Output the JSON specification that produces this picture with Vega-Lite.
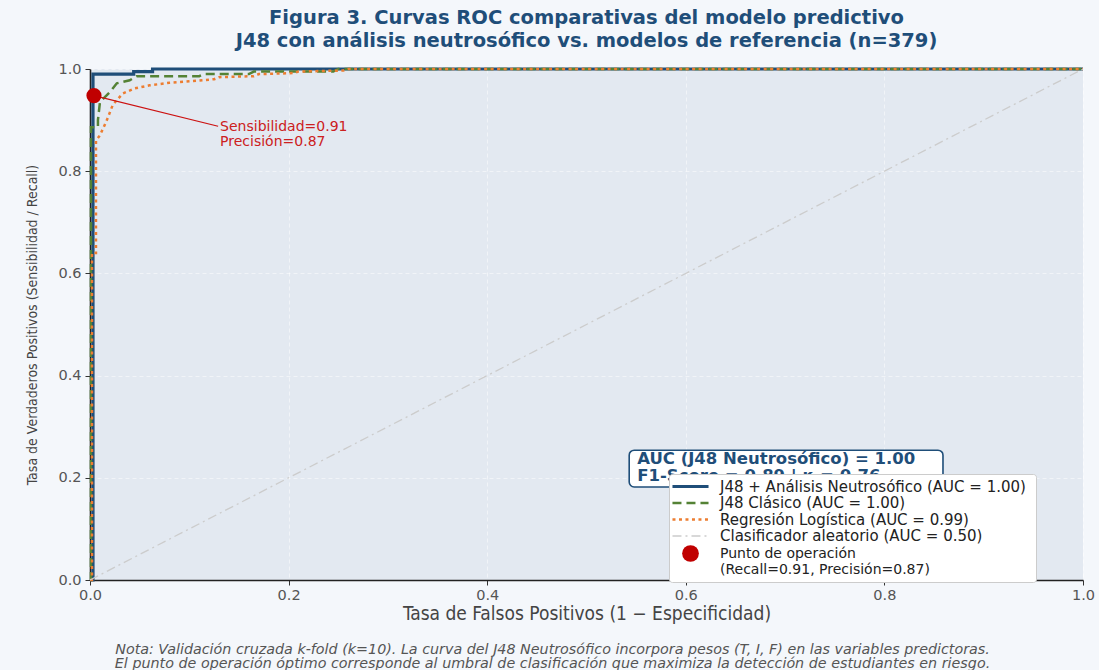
{
  "$schema": "https://vega.github.io/schema/vega-lite/v6.json",
  "width": 993,
  "height": 511,
  "autosize": {"type": "none"},
  "padding": {"left": 90, "top": 69, "right": 16, "bottom": 90},
  "background": "#f4f7fb",
  "config": {
    "view": {"fill": "#e3e9f1", "stroke": null},
    "font": "DejaVu Sans"
  },
  "title": {
    "text": ["Figura 3. Curvas ROC comparativas del modelo predictivo", "J48 con análisis neutrosófico vs. modelos de referencia  (n=379)"],
    "font": "DejaVu Sans",
    "fontSize": 19.5,
    "fontWeight": "bold",
    "color": "#1f4e79",
    "anchor": "middle",
    "lineHeight": 22.5,
    "offset": 10
  },
  "datasets": {
    "curves": [
      {"serie": "J48 + Análisis Neutrosófico  (AUC = 1.00)", "fpr": 0.0, "tpr": 0.0},
      {"serie": "J48 + Análisis Neutrosófico  (AUC = 1.00)", "fpr": 0.003, "tpr": 0.0},
      {"serie": "J48 + Análisis Neutrosófico  (AUC = 1.00)", "fpr": 0.003, "tpr": 0.99},
      {"serie": "J48 + Análisis Neutrosófico  (AUC = 1.00)", "fpr": 0.044, "tpr": 0.99},
      {"serie": "J48 + Análisis Neutrosófico  (AUC = 1.00)", "fpr": 0.044, "tpr": 0.995},
      {"serie": "J48 + Análisis Neutrosófico  (AUC = 1.00)", "fpr": 0.063, "tpr": 0.995},
      {"serie": "J48 + Análisis Neutrosófico  (AUC = 1.00)", "fpr": 0.063, "tpr": 1.0},
      {"serie": "J48 + Análisis Neutrosófico  (AUC = 1.00)", "fpr": 1.0, "tpr": 1.0},
      {"serie": "J48 Clásico  (AUC = 1.00)", "fpr": 0.0, "tpr": 0.0},
      {"serie": "J48 Clásico  (AUC = 1.00)", "fpr": 0.001, "tpr": 0.0},
      {"serie": "J48 Clásico  (AUC = 1.00)", "fpr": 0.001, "tpr": 0.886},
      {"serie": "J48 Clásico  (AUC = 1.00)", "fpr": 0.008, "tpr": 0.886},
      {"serie": "J48 Clásico  (AUC = 1.00)", "fpr": 0.008, "tpr": 0.9},
      {"serie": "J48 Clásico  (AUC = 1.00)", "fpr": 0.01, "tpr": 0.935},
      {"serie": "J48 Clásico  (AUC = 1.00)", "fpr": 0.02, "tpr": 0.955},
      {"serie": "J48 Clásico  (AUC = 1.00)", "fpr": 0.027, "tpr": 0.972},
      {"serie": "J48 Clásico  (AUC = 1.00)", "fpr": 0.04, "tpr": 0.978},
      {"serie": "J48 Clásico  (AUC = 1.00)", "fpr": 0.047, "tpr": 0.986},
      {"serie": "J48 Clásico  (AUC = 1.00)", "fpr": 0.11, "tpr": 0.986},
      {"serie": "J48 Clásico  (AUC = 1.00)", "fpr": 0.115, "tpr": 0.99},
      {"serie": "J48 Clásico  (AUC = 1.00)", "fpr": 0.16, "tpr": 0.99},
      {"serie": "J48 Clásico  (AUC = 1.00)", "fpr": 0.165, "tpr": 0.995},
      {"serie": "J48 Clásico  (AUC = 1.00)", "fpr": 0.245, "tpr": 0.995},
      {"serie": "J48 Clásico  (AUC = 1.00)", "fpr": 0.25, "tpr": 1.0},
      {"serie": "J48 Clásico  (AUC = 1.00)", "fpr": 1.0, "tpr": 1.0},
      {"serie": "Regresión Logística  (AUC = 0.99)", "fpr": 0.0, "tpr": 0.0},
      {"serie": "Regresión Logística  (AUC = 0.99)", "fpr": 0.002, "tpr": 0.0},
      {"serie": "Regresión Logística  (AUC = 0.99)", "fpr": 0.002, "tpr": 0.64},
      {"serie": "Regresión Logística  (AUC = 0.99)", "fpr": 0.006, "tpr": 0.64},
      {"serie": "Regresión Logística  (AUC = 0.99)", "fpr": 0.006, "tpr": 0.86},
      {"serie": "Regresión Logística  (AUC = 0.99)", "fpr": 0.01, "tpr": 0.87},
      {"serie": "Regresión Logística  (AUC = 0.99)", "fpr": 0.017, "tpr": 0.9},
      {"serie": "Regresión Logística  (AUC = 0.99)", "fpr": 0.023, "tpr": 0.93},
      {"serie": "Regresión Logística  (AUC = 0.99)", "fpr": 0.033, "tpr": 0.952},
      {"serie": "Regresión Logística  (AUC = 0.99)", "fpr": 0.045, "tpr": 0.962},
      {"serie": "Regresión Logística  (AUC = 0.99)", "fpr": 0.06, "tpr": 0.968},
      {"serie": "Regresión Logística  (AUC = 0.99)", "fpr": 0.08, "tpr": 0.973},
      {"serie": "Regresión Logística  (AUC = 0.99)", "fpr": 0.1, "tpr": 0.976},
      {"serie": "Regresión Logística  (AUC = 0.99)", "fpr": 0.125, "tpr": 0.98},
      {"serie": "Regresión Logística  (AUC = 0.99)", "fpr": 0.13, "tpr": 0.984},
      {"serie": "Regresión Logística  (AUC = 0.99)", "fpr": 0.165, "tpr": 0.986},
      {"serie": "Regresión Logística  (AUC = 0.99)", "fpr": 0.17, "tpr": 0.99},
      {"serie": "Regresión Logística  (AUC = 0.99)", "fpr": 0.205, "tpr": 0.992},
      {"serie": "Regresión Logística  (AUC = 0.99)", "fpr": 0.21, "tpr": 0.995},
      {"serie": "Regresión Logística  (AUC = 0.99)", "fpr": 0.255, "tpr": 0.997},
      {"serie": "Regresión Logística  (AUC = 0.99)", "fpr": 0.26, "tpr": 1.0},
      {"serie": "Regresión Logística  (AUC = 0.99)", "fpr": 1.0, "tpr": 1.0},
      {"serie": "Clasificador aleatorio  (AUC = 0.50)", "fpr": 0.0, "tpr": 0.0},
      {"serie": "Clasificador aleatorio  (AUC = 0.50)", "fpr": 1.0, "tpr": 1.0}
    ],
    "op": [
      {"fpr": 0.004, "tpr": 0.948}
    ]
  },
  "layer": [
    {
      "data": {"name": "curves"},
      "mark": {"type": "line", "strokeCap": "butt", "strokeJoin": "miter"},
      "encoding": {
        "x": {
          "field": "fpr", "type": "quantitative",
          "scale": {"domain": [0, 1], "nice": false, "zero": false},
          "axis": {
            "values": [0, 0.2, 0.4, 0.6, 0.8, 1.0], "format": ".1f",
            "title": "Tasa de Falsos Positivos  (1 − Especificidad)",
            "titleFont": "DejaVu Sans Condensed", "titleFontSize": 19, "titleFontWeight": "normal",
            "titleColor": "#444444", "titlePadding": 3,
            "labelFont": "DejaVu Sans", "labelFontSize": 14.5, "labelColor": "#555555", "labelPadding": 3, "labelFlush": false,
            "tickSize": 5, "tickColor": "#333333", "tickWidth": 1,
            "domainColor": "#222222", "domainWidth": 1.6,
            "grid": true, "gridColor": "#ffffff", "gridOpacity": 0.5, "gridDash": [4, 3], "gridWidth": 1
          }
        },
        "y": {
          "field": "tpr", "type": "quantitative",
          "scale": {"domain": [0, 1], "nice": false, "zero": false},
          "axis": {
            "values": [0, 0.2, 0.4, 0.6, 0.8, 1.0], "format": ".1f",
            "title": "Tasa de Verdaderos Positivos  (Sensibilidad / Recall)",
            "titleFont": "DejaVu Sans Condensed", "titleFontSize": 14, "titleFontWeight": "normal",
            "titleColor": "#444444", "titlePadding": 18,
            "labelFont": "DejaVu Sans", "labelFontSize": 14.5, "labelColor": "#555555", "labelPadding": 4, "labelFlush": false,
            "tickSize": 5, "tickColor": "#333333", "tickWidth": 1,
            "domainColor": "#222222", "domainWidth": 1.6,
            "grid": true, "gridColor": "#ffffff", "gridOpacity": 0.5, "gridDash": [4, 3], "gridWidth": 1
          }
        },
        "color": {
          "field": "serie", "type": "nominal",
          "scale": {
            "domain": ["J48 + Análisis Neutrosófico  (AUC = 1.00)", "J48 Clásico  (AUC = 1.00)", "Regresión Logística  (AUC = 0.99)", "Clasificador aleatorio  (AUC = 0.50)", "Punto de operación"],
            "range": ["#1f4e79", "#548235", "#ed7d31", "#cccccc", "#c00000"]
          },
          "legend": {
            "title": null, "orient": "none", "legendX": 579, "legendY": 405,
            "symbolType": "stroke", "symbolSize": 1300, "symbolStrokeWidth": 2.5, "symbolOffset": 9,
            "labelFont": "DejaVu Sans", "labelFontSize": 15, "labelColor": "#222222", "labelOffset": 22, "labelLimit": 600,
            "rowPadding": 0.5, "padding": 5, "fillColor": "#ffffff", "strokeColor": "#cccccc", "cornerRadius": 3,
            "labelExpr": "datum.index === 4 ? ['Punto de operación', '(Recall=0.91, Precisión=0.87)'] : datum.label",
            "encode": {
              "labels": {"update": {"lineHeight": {"value": 16.5}, "fontSize": {"signal": "datum.index === 4 ? 14 : 15"}}},
              "symbols": {
                "update": {
                  "shape": {"signal": "datum.index === 4 ? 'circle' : 'stroke'"},
                  "size": {"signal": "datum.index === 4 ? 280 : 1300"},
                  "fill": {"signal": "datum.index === 4 ? '#c00000' : 'transparent'"},
                  "strokeWidth": {"signal": "datum.index === 4 ? 0 : datum.index === 0 ? 3 : datum.index === 3 ? 1.3 : 2.5"}
                }
              }
            }
          }
        },
        "strokeDash": {
          "field": "serie", "type": "nominal",
          "scale": {
            "domain": ["J48 + Análisis Neutrosófico  (AUC = 1.00)", "J48 Clásico  (AUC = 1.00)", "Regresión Logística  (AUC = 0.99)", "Clasificador aleatorio  (AUC = 0.50)", "Punto de operación"],
            "range": [[1, 0], [9, 5], [3, 3.5], [9, 4, 2, 4], [1, 0]]
          },
          "legend": {
            "title": null, "orient": "none", "legendX": 579, "legendY": 405,
            "symbolType": "stroke", "symbolSize": 1300, "symbolStrokeWidth": 2.5, "symbolOffset": 9,
            "labelFont": "DejaVu Sans", "labelFontSize": 15, "labelColor": "#222222", "labelOffset": 22, "labelLimit": 600,
            "rowPadding": 0.5, "padding": 5, "fillColor": "#ffffff", "strokeColor": "#cccccc", "cornerRadius": 3,
            "labelExpr": "datum.index === 4 ? ['Punto de operación', '(Recall=0.91, Precisión=0.87)'] : datum.label",
            "encode": {
              "labels": {"update": {"lineHeight": {"value": 16.5}, "fontSize": {"signal": "datum.index === 4 ? 14 : 15"}}},
              "symbols": {
                "update": {
                  "shape": {"signal": "datum.index === 4 ? 'circle' : 'stroke'"},
                  "size": {"signal": "datum.index === 4 ? 280 : 1300"},
                  "fill": {"signal": "datum.index === 4 ? '#c00000' : 'transparent'"},
                  "strokeWidth": {"signal": "datum.index === 4 ? 0 : datum.index === 0 ? 3 : datum.index === 3 ? 1.3 : 2.5"}
                }
              }
            }
          }
        },
        "strokeWidth": {
          "condition": [
            {"test": "datum.serie === 'J48 + Análisis Neutrosófico  (AUC = 1.00)'", "value": 3.2},
            {"test": "datum.serie === 'Clasificador aleatorio  (AUC = 0.50)'", "value": 1.3}
          ],
          "value": 2.5
        },
        "order": {"value": null}
      }
    },
    {
      "data": {"values": [{}]},
      "mark": {"type": "rule", "color": "#cc1111", "strokeWidth": 1.2},
      "encoding": {
        "x": {"datum": 0.004, "type": "quantitative", "axis": null},
        "y": {"datum": 0.948, "type": "quantitative"},
        "x2": {"datum": 0.129},
        "y2": {"datum": 0.888}
      }
    },
    {
      "data": {"name": "op"},
      "mark": {"type": "circle", "size": 230, "color": "#c00000", "opacity": 1},
      "encoding": {
        "x": {
          "field": "fpr", "type": "quantitative",
          "axis": {
            "orient": "bottom", "domain": false, "ticks": false, "labels": false, "grid": false,
            "title": ["Nota: Validación cruzada k-fold (k=10). La curva del J48 Neutrosófico incorpora pesos (T, I, F) en las variables predictoras.", "El punto de operación óptimo corresponde al umbral de clasificación que maximiza la detección de estudiantes en riesgo."],
            "titleFont": "DejaVu Sans", "titleFontSize": 14.3, "titleFontStyle": "italic", "titleFontWeight": "normal",
            "titleColor": "#555555", "titleLineHeight": 14, "titleX": 462, "titleY": 62, "titleAlign": "center", "titleBaseline": "top"
          }
        },
        "y": {"field": "tpr", "type": "quantitative"}
      }
    },
    {
      "data": {"values": [{}]},
      "mark": {"type": "text", "align": "left", "baseline": "top", "font": "DejaVu Sans", "fontSize": 14, "lineHeight": 15, "color": "#cc2020",
        "text": ["Sensibilidad=0.91", "Precisión=0.87"]},
      "encoding": {
        "x": {"datum": 0.131, "type": "quantitative", "axis": null},
        "y": {"datum": 0.901, "type": "quantitative"}
      }
    },
    {
      "data": {"values": [{}]},
      "mark": {"type": "rect", "fill": "#ffffff", "stroke": "#1f4e79", "strokeWidth": 1.6, "cornerRadius": 5},
      "encoding": {
        "x": {"datum": 0.543, "type": "quantitative", "axis": null},
        "x2": {"datum": 0.859},
        "y": {"datum": 0.254, "type": "quantitative"},
        "y2": {"datum": 0.182}
      }
    },
    {
      "data": {"values": [{}]},
      "mark": {"type": "text", "align": "left", "baseline": "top", "font": "DejaVu Sans", "fontSize": 16.5, "fontWeight": "bold", "lineHeight": 17, "color": "#1f4e79",
        "text": ["AUC (J48 Neutrosófico) = 1.00", "F1-Score = 0.89  |  κ = 0.76"]},
      "encoding": {
        "x": {"datum": 0.551, "type": "quantitative", "axis": null},
        "y": {"datum": 0.2515, "type": "quantitative"}
      }
    }
  ],
  "resolve": {"axis": {"x": "independent"}}
}
